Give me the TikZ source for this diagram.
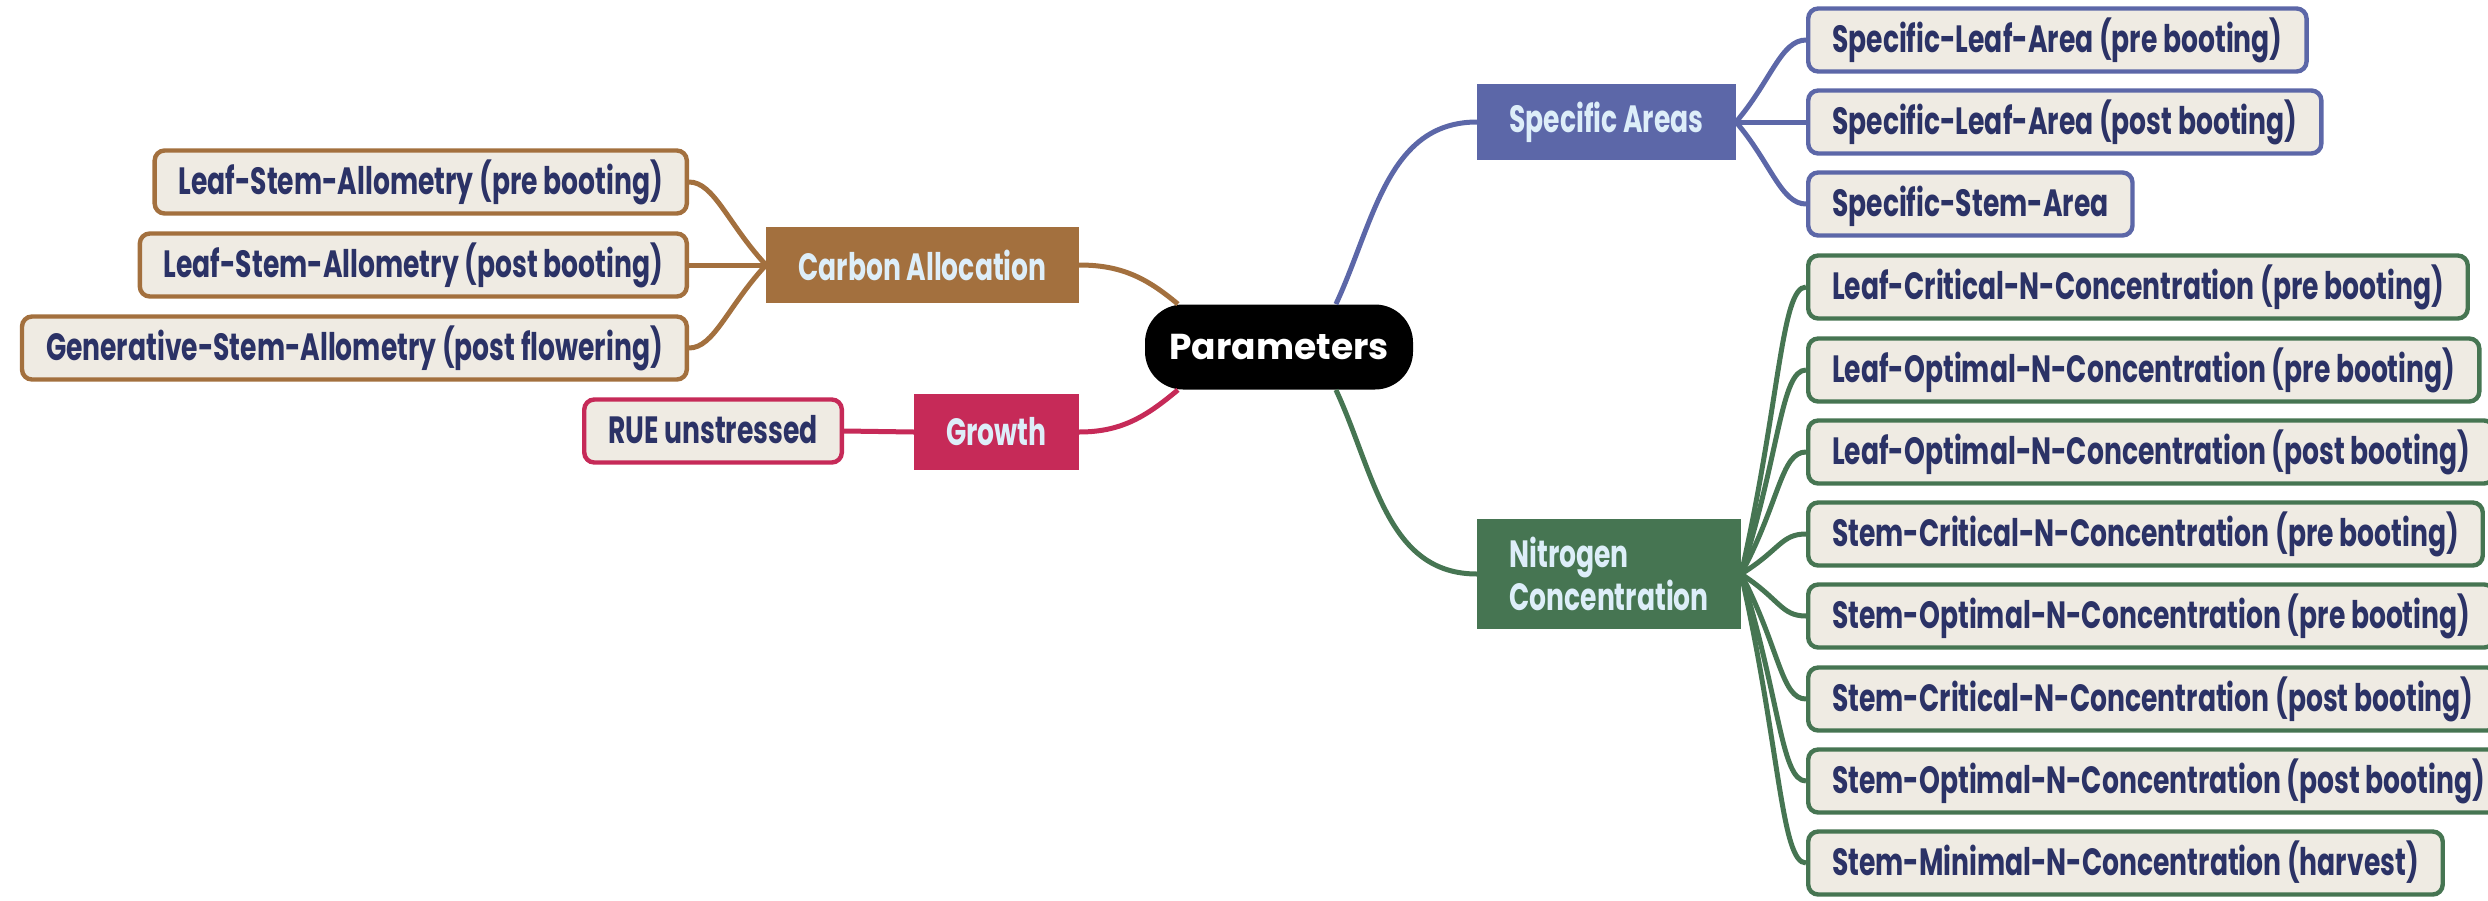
\documentclass[tikz,border=0pt]{standalone}
\usepackage{fontspec}
\setmainfont{Poppins}
\newfontfamily\condfont{Poppins}[FakeStretch=0.70]
\usetikzlibrary{calc}
\definecolor{leaffill}{HTML}{EFEBE3}
\definecolor{leaftext}{HTML}{2B3266}
\definecolor{brtext}{HTML}{DDEEF9}
\definecolor{cbrown}{HTML}{A3703E}
\definecolor{cblue}{HTML}{5C67A8}
\definecolor{cgreen}{HTML}{467552}
\definecolor{cred}{HTML}{C62A58}
\begin{document}
\begin{tikzpicture}[x=0.5pt,y=-0.5pt,
  leaf/.style={draw=#1, fill=leaffill, line width=2.2pt, rounded corners=5pt,
    minimum height=31.5pt, inner xsep=12pt, inner ysep=0pt, text=leaftext,
    text height=13pt, text depth=0.5pt,
    font=\condfont\bfseries\fontsize{19}{20}\selectfont},
  branch/.style={fill=#1, text=brtext, minimum height=38pt, inner xsep=16pt,
    inner ysep=9pt, align=left,
    font=\condfont\bfseries\fontsize{19}{20}\selectfont},
  central/.style={fill=black, text=white, rounded corners=19pt,
    minimum width=134pt, minimum height=42.5pt,
    font=\bfseries\fontsize{18}{20}\selectfont},
  link/.style={draw=#1, line width=2.5pt},
]
\useasboundingbox (0,0) rectangle (2488,900);

\node[central] (P) at (1279,347) {Parameters};

\node[branch=cblue, anchor=west] (SA) at (1477,122) {Specific Areas};
\node[branch=cgreen, anchor=west] (NC) at (1477,574) {Nitrogen\\Concentration};
\node[branch=cbrown, anchor=east] (CA) at (1079,265) {Carbon Allocation};
\node[branch=cred, anchor=east] (GR) at (1079,432) {Growth};

\node[leaf=cblue, anchor=west] (S1) at (1806,40) {Specific-Leaf-Area (pre booting)};
\node[leaf=cblue, anchor=west] (S2) at (1806,122) {Specific-Leaf-Area (post booting)};
\node[leaf=cblue, anchor=west] (S3) at (1806,204) {Specific-Stem-Area};

\node[leaf=cgreen, anchor=west] (N1) at (1806,287) {Leaf-Critical-N-Concentration (pre booting)};
\node[leaf=cgreen, anchor=west] (N2) at (1806,370) {Leaf-Optimal-N-Concentration (pre booting)};
\node[leaf=cgreen, anchor=west] (N3) at (1806,452) {Leaf-Optimal-N-Concentration (post booting)};
\node[leaf=cgreen, anchor=west] (N4) at (1806,534) {Stem-Critical-N-Concentration (pre booting)};
\node[leaf=cgreen, anchor=west] (N5) at (1806,616) {Stem-Optimal-N-Concentration (pre booting)};
\node[leaf=cgreen, anchor=west] (N6) at (1806,699) {Stem-Critical-N-Concentration (post booting)};
\node[leaf=cgreen, anchor=west] (N7) at (1806,781) {Stem-Optimal-N-Concentration (post booting)};
\node[leaf=cgreen, anchor=west] (N8) at (1806,863) {Stem-Minimal-N-Concentration (harvest)};

\node[leaf=cbrown, anchor=east] (C1) at (689,182) {Leaf-Stem-Allometry (pre booting)};
\node[leaf=cbrown, anchor=east] (C2) at (689,265) {Leaf-Stem-Allometry (post booting)};
\node[leaf=cbrown, anchor=east] (C3) at (689,348) {Generative-Stem-Allometry (post flowering)};

\node[leaf=cred, anchor=east] (G1) at (844,431) {RUE unstressed};

% central connectors
\draw[link=cblue] (P.37) to[out=65,in=180] (SA.west);
\draw[link=cgreen] (P.-37) to[out=-65,in=180] (NC.west);
\draw[link=cbrown] (P.157) to[out=140,in=0] (CA.east);
\draw[link=cred] (P.203) to[out=-140,in=0] (GR.east);

% fans
\foreach \n in {S1,S2,S3}
  \draw[link=cblue] (SA.east) .. controls ($(SA.east)!0.5!(\n.west)$) and ($(\n.west)+(-25,0)$) .. (\n.west);
\foreach \n in {N1,N2,N3,N4,N5,N6,N7,N8}
  \draw[link=cgreen] (NC.east) .. controls ($(NC.east)!0.6!(\n.west)$) and ($(\n.west)+(-25,0)$) .. (\n.west);
\foreach \n in {C1,C2,C3}
  \draw[link=cbrown] (CA.west) .. controls ($(CA.west)!0.5!(\n.east)$) and ($(\n.east)+(25,0)$) .. (\n.east);
\draw[link=cred] (GR.west) -- (G1.east);
\end{tikzpicture}
\end{document}
